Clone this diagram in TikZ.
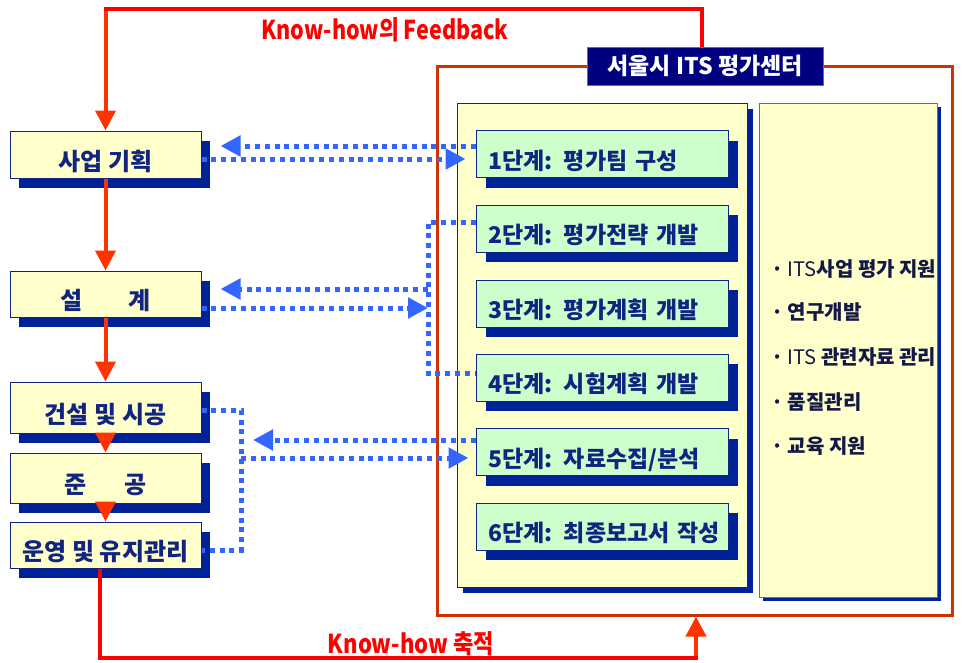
\documentclass[tikz,border=0pt]{standalone}
\usepackage{fontspec}
\setmainfont{Noto Sans CJK KR}
\usetikzlibrary{arrows.meta,shadows}
\definecolor{navytxt}{RGB}{16,36,128}
\definecolor{darktxt}{RGB}{20,24,70}
\definecolor{shadowblue}{RGB}{0,34,153}
\definecolor{boxyellow}{RGB}{255,255,204}
\definecolor{boxgreen}{RGB}{204,255,204}
\definecolor{frameorange}{RGB}{204,51,0}
\definecolor{arroworange}{RGB}{255,51,0}
\definecolor{dotblue}{RGB}{51,102,255}
\definecolor{titlenavy}{RGB}{0,0,128}
\definecolor{edgegray}{RGB}{100,110,140}
\begin{document}
\begin{tikzpicture}[x=1pt,y=-1pt,
  lbox/.style={draw=navytxt, line width=1pt, fill=boxyellow, minimum width=191pt,
    text=navytxt, font=\fontsize{24}{24}\selectfont\bfseries,
    text height=31pt, text depth=0pt,
    general shadow={fill=shadowblue, shadow xshift=9pt, shadow yshift=-10pt}},
  stepbox/.style={draw=navytxt, line width=1pt, fill=boxgreen, minimum width=252pt,
    minimum height=47pt, inner xsep=12pt, text width=228pt, align=left,
    text height=30pt, text depth=0pt,
    text=navytxt, font=\fontsize{23}{23}\selectfont\bfseries,
    general shadow={fill=shadowblue, shadow xshift=10pt, shadow yshift=-10pt}},
  item/.style={anchor=west, text=darktxt, font=\fontsize{20}{20}\selectfont, inner sep=0pt},
  dots/.style={draw=dotblue, line width=5pt, dash pattern=on 5pt off 4.8pt},
  btip/.style={-{Triangle[width=20pt,length=20pt]}},
  redl/.style={draw=red, line width=4pt},
  orarrow/.style={draw=arroworange, line width=4pt, -{Triangle[width=20pt,length=20pt]}},
  lbl/.style={text=red, font=\fontsize{26}{26}\selectfont\bfseries}
]
\useasboundingbox (0,0) rectangle (962,662);
\fill[white] (0,0) rectangle (962,662);

% outer frame and title
\node[draw=frameorange, line width=3pt, minimum width=515pt, minimum height=549pt, inner sep=0pt] (frame) at (694.5,340.5) {};
\node[draw=edgegray, line width=0.8pt, fill=titlenavy, minimum width=236pt, minimum height=38pt,
  text=white, font=\fontsize{23}{23}\selectfont\bfseries] (title) at (705,66) {서울시 ITS 평가센터};

% panels
\node[draw=navytxt, line width=1pt, fill=boxyellow, minimum width=290pt, minimum height=484pt,
  general shadow={fill=shadowblue, shadow xshift=6pt, shadow yshift=-6pt}] (p1) at (602,345) {};
\node[draw=edgegray, line width=1pt, fill=boxyellow, minimum width=178pt, minimum height=494pt,
  general shadow={fill=shadowblue, shadow xshift=4pt, shadow yshift=-4pt}] (p2) at (848,350) {};

% steps
\node[stepbox] (s1) at (602,154) {\mbox{1단계: 평가팀 구성}};
\node[stepbox] (s2) at (602,228.5) {\mbox{2단계: 평가전략 개발}};
\node[stepbox] (s3) at (602,303.5) {\mbox{3단계: 평가계획 개발}};
\node[stepbox] (s4) at (602,377.5) {\mbox{4단계: 시험계획 개발}};
\node[stepbox] (s5) at (602,452) {\mbox{5단계: 자료수집/분석}};
\node[stepbox] (s6) at (602,526.5) {\mbox{6단계: 최종보고서 작성}};

% right items
\node[item] (r1) at (771,269) {\textbf{·} ITS\textbf{사업 평가 지원}};
\node[item] (r2) at (771,312) {\textbf{·} \textbf{연구개발}};
\node[item] (r3) at (771,357) {\textbf{·} ITS \textbf{관련자료 관리}};
\node[item] (r4) at (771,402) {\textbf{·} \textbf{품질관리}};
\node[item] (r5) at (771,446) {\textbf{·} \textbf{교육 지원}};

% left boxes
\node[lbox, minimum height=47pt] (b1) at (105.5,154.5) {사업 기획};
\node[lbox, minimum height=46pt] (b2) at (105.5,294) {설\hspace{46pt}계};
\node[lbox, minimum height=51pt] (b3) at (105.5,407.5) {건설 및 시공};
\node[lbox, minimum height=50pt] (b4) at (105.5,478) {준\hspace{38pt}공};
\node[lbox, minimum height=46pt] (b5) at (105.5,545) {운영 및 유지관리};

% red flow arrows
\draw[orarrow] (b1.south) -- (b2.north);
\draw[orarrow] (b2.south) -- (b3.north);
\draw[orarrow] (b3.south) -- (b4.north);
\draw[orarrow] (b4.south) -- (b5.north);

% feedback
\coordinate (fbR) at (702,9);
\coordinate (fbL) at (105.5,9);
\draw[redl] (title.north -| fbR) -- (fbR) -- ([xshift=-2pt]fbL);
\draw[orarrow] ([yshift=-2pt]fbL) -- (b1.north);
\node[lbl] (fb) at (385,30) {\scalebox{0.83}[1]{Know-how의 Feedback}};

% accumulation
\coordinate (kbL) at (100,658);
\coordinate (kbR) at (696,658);
\draw[redl] (b5.south -| kbL) -- (kbL) -- ([xshift=2pt]kbR);
\draw[orarrow] ([yshift=2pt]kbR) -- (kbR |- frame.south);
\node[lbl] (ka) at (411,644) {\scalebox{0.85}[1]{Know-how 축적}};

% dotted connectors
\draw[dots, btip, shorten >=19pt] (s1.west |- 0,146) -- (b1.east |- 0,146);
\draw[dots, btip, shorten >=10pt] (b1.east |- 0,159) -- (s1.west |- 0,159);

\coordinate (v2t) at (428,222);
\coordinate (v2b) at (428,373);
\draw[dots] (s2.west |- v2t) -- (v2t) -- (v2b) -- (s4.west |- v2b);
\draw[dots, btip, shorten >=19pt] (v2t |- 0,289) -- (b2.east |- 0,289);
\draw[dots, btip] (b2.east |- 0,308) -- (v2t |- 0,308);

\coordinate (v3t) at (241,410);
\coordinate (v3b) at (241,550);
\coordinate (t5) at (253,440);
\draw[dots] (b3.east |- v3t) -- (v3t) -- (v3b) -- (b5.east |- v3b);
\draw[dots, btip] (s5.west |- t5) -- (t5);
\draw[dots, btip, shorten >=7pt] (v3t |- 0,458) -- (s5.west |- 0,458);
\end{tikzpicture}
\end{document}
